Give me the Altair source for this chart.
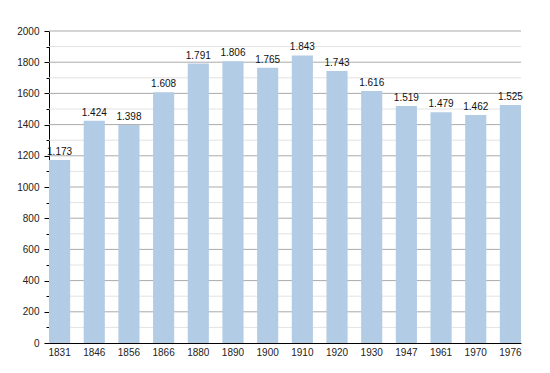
import altair as alt
import pandas as pd

years = ["1831", "1846", "1856", "1866", "1880", "1890", "1900", "1910", "1920", "1930", "1947", "1961", "1970", "1976"]
population = [1173, 1424, 1398, 1608, 1791, 1806, 1765, 1843, 1743, 1616, 1519, 1479, 1462, 1525]
y_ticks = list(range(0, 2001, 100))

df = pd.DataFrame({"year": years, "pop": population})
df["label"] = [f"{v:,}".replace(",", ".") for v in population]
grid_df = pd.DataFrame({"v": y_ticks[1:]})

FONT = "Liberation Sans"

x = alt.X("year:N", sort=years, title=None,
          scale=alt.Scale(paddingInner=0.39, paddingOuter=0),
          axis=alt.Axis(labelAngle=0, ticks=False, domainColor="#000", labelFont=FONT,
                        labelFontSize=10, labelColor="#222", labelPadding=4, grid=False))
yscale = alt.Scale(domain=[0, 2000], nice=False)
yaxis = alt.Axis(values=y_ticks, domainColor="#000", tickColor="#000", grid=False,
                 tickSize={"condition": {"test": "datum.value % 200 === 0", "value": 5}, "value": 3},
                 labelExpr="datum.value % 200 === 0 ? datum.label : ''",
                 labelOverlap=False,
                 format="d", labelFont=FONT, labelFontSize=10, labelColor="#222",
                 labelPadding=5)

grid = alt.Chart(grid_df).mark_rule(strokeWidth=1).encode(
    y=alt.Y("v:Q", scale=yscale, axis=yaxis, title=None),
    color=alt.condition("datum.v % 200 === 0", alt.value("#aaaaaa"), alt.value("#e2e2e2")),
)

base = alt.Chart(df).encode(x=x, y=alt.Y("pop:Q", title=None, scale=yscale, axis=yaxis))
bars = base.mark_bar(color="#b3cce6")
text = base.mark_text(baseline="bottom", dy=-3, font=FONT, fontSize=10, color="#111").encode(text="label:N")

chart = alt.layer(grid, bars, text).properties(
    width=472, height=312,
    autosize=alt.AutoSizeParams(type="none"),
    padding={"left": 41, "top": 23, "right": 10, "bottom": 20},
).configure_view(stroke=None)

chart.save("out.html", embed_options={"renderer": "svg", "actions": False})
